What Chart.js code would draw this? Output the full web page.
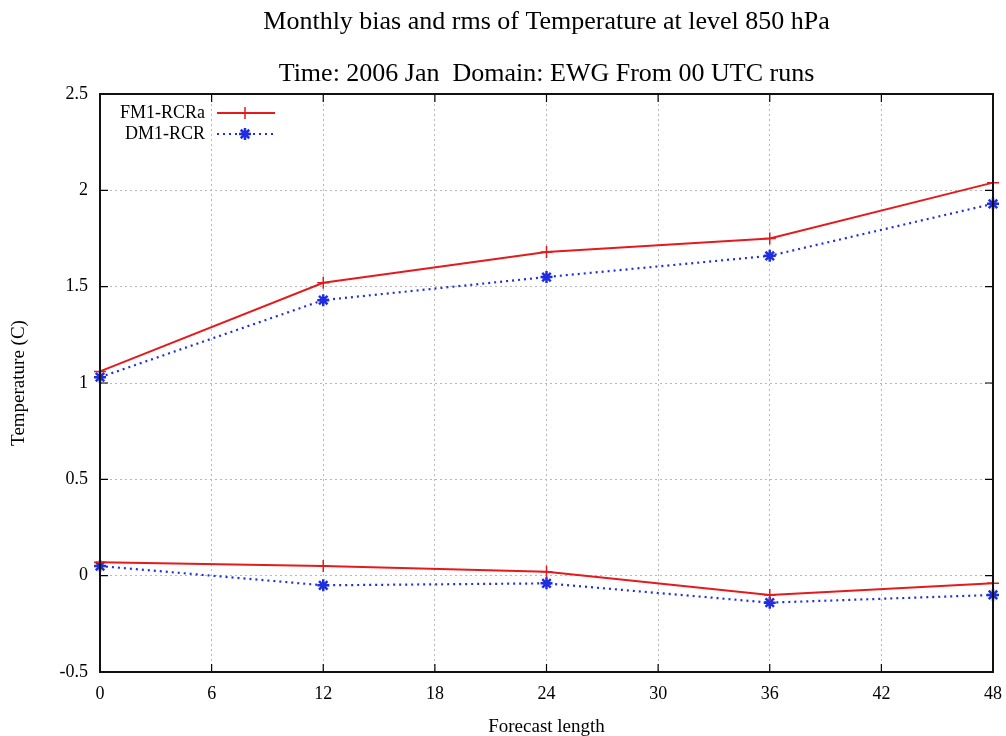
<!DOCTYPE html>
<html>
<head>
<meta charset="utf-8">
<script src="https://cdn.jsdelivr.net/npm/chart.js@4.4.0/dist/chart.umd.min.js"></script>
<style>
html,body{margin:0;padding:0;background:#fff;}
#wrap{width:1006px;height:736px;position:relative;}
</style>
</head>
<body>
<div id="wrap"><canvas id="c" width="1006" height="736"></canvas></div>
<script>
const forecastHours = [0, 12, 24, 36, 48];
const fm1Rms  = [1.06, 1.52, 1.68, 1.75, 2.04];
const dm1Rms  = [1.03, 1.43, 1.55, 1.66, 1.93];
const fm1Bias = [0.07, 0.05, 0.02, -0.10, -0.04];
const dm1Bias = [0.05, -0.05, -0.04, -0.14, -0.10];
const xTickValues = [0, 6, 12, 18, 24, 30, 36, 42, 48];
const yTickValues = [-0.5, 0, 0.5, 1, 1.5, 2, 2.5];
const seriesNames = ['FM1-RCRa', 'DM1-RCR'];
const titleLines = ['Monthly bias and rms of Temperature at level 850 hPa', 'Time: 2006 Jan  Domain: EWG From 00 UTC runs'];
const xTitle = 'Forecast length';
const yTitle = 'Temperature (C)';

const RED = '#e41a1c';
const BLUE = '#1f2fe0';
const FONT = '"Liberation Serif", "DejaVu Serif", serif';

function pts(vals){ return forecastHours.map((h,i)=>({x:h, y:vals[i]})); }

const redStyle = {borderColor: RED, backgroundColor: RED, borderWidth: 2, pointStyle: 'cross', pointRadius: 6, pointBorderWidth: 1.5, pointBorderColor: RED, clip: false, tension: 0};
const blueStyle = {borderColor: BLUE, backgroundColor: BLUE, borderWidth: 2.2, borderDash: [2, 4], pointStyle: 'star', pointRadius: 6, pointBorderWidth: 2.5, pointBorderColor: BLUE, clip: false, tension: 0};

const decor = {
  id: 'decor',
  afterDraw(chart){
    const ctx = chart.ctx, a = chart.chartArea;
    const xs = chart.scales.x, ys = chart.scales.y;
    ctx.save();
    ctx.strokeStyle = '#000'; ctx.lineWidth = 1.2;
    const tl = 8;
    xTickValues.forEach(v=>{
      const px = xs.getPixelForValue(v);
      ctx.beginPath(); ctx.moveTo(px, a.bottom); ctx.lineTo(px, a.bottom - tl);
      ctx.moveTo(px, a.top); ctx.lineTo(px, a.top + tl); ctx.stroke();
    });
    yTickValues.forEach(v=>{
      const py = ys.getPixelForValue(v);
      ctx.beginPath(); ctx.moveTo(a.left, py); ctx.lineTo(a.left + tl, py);
      ctx.moveTo(a.right, py); ctx.lineTo(a.right - tl, py); ctx.stroke();
    });
    ctx.lineWidth = 2; ctx.strokeStyle = '#111';
    ctx.strokeRect(a.left, a.top, a.right - a.left, a.bottom - a.top);
    ctx.fillStyle = '#000';
    ctx.textAlign = 'center'; ctx.textBaseline = 'middle';
    ctx.font = '26px ' + FONT;
    const cx = (a.left + a.right) / 2;
    ctx.fillText(titleLines[0], cx, 22);
    ctx.fillText(titleLines[1], cx, 74);
    ctx.font = '19px ' + FONT;
    ctx.fillText(xTitle, cx, 727);
    ctx.save();
    ctx.translate(19, (a.top + a.bottom) / 2);
    ctx.rotate(-Math.PI / 2);
    ctx.fillText(yTitle, 0, 0);
    ctx.restore();
    const rows = [
      {name: seriesNames[0], y: 113, color: RED, dash: [], style: 'cross', lw: 2},
      {name: seriesNames[1], y: 134, color: BLUE, dash: [2, 4], style: 'star', lw: 2.2}
    ];
    ctx.font = '18px ' + FONT;
    rows.forEach(r=>{
      ctx.textAlign = 'right'; ctx.fillStyle = '#000';
      ctx.fillText(r.name, 205, r.y);
      ctx.strokeStyle = r.color; ctx.lineWidth = r.lw; ctx.setLineDash(r.dash);
      ctx.beginPath(); ctx.moveTo(217, r.y); ctx.lineTo(275, r.y); ctx.stroke();
      ctx.setLineDash([]);
      ctx.lineWidth = r.style === 'star' ? 2.5 : 1.5;
      Chart.helpers.drawPoint(ctx, {pointStyle: r.style, radius: 6, borderWidth: ctx.lineWidth}, 245, r.y);
    });
    ctx.restore();
  }
};

new Chart(document.getElementById('c'), {
  type: 'line',
  data: {
    datasets: [
      Object.assign({label: seriesNames[0], data: pts(fm1Rms)}, redStyle),
      Object.assign({label: seriesNames[1], data: pts(dm1Rms)}, blueStyle),
      Object.assign({label: seriesNames[0] + ' bias', data: pts(fm1Bias)}, redStyle),
      Object.assign({label: seriesNames[1] + ' bias', data: pts(dm1Bias)}, blueStyle)
    ]
  },
  options: {
    responsive: false,
    animation: false,
    layout: {padding: {left: 0, right: 13, top: 94, bottom: 0}},
    plugins: {legend: {display: false}, title: {display: false}, tooltip: {enabled: false}},
    scales: {
      x: {
        type: 'linear', min: 0, max: 48,
        afterBuildTicks(s){ s.ticks = xTickValues.map(v=>({value: v})); },
        afterFit(s){ s.height = 64; s.paddingRight = 0; s.paddingLeft = 0; },
        grid: {color: '#b8b8b8', lineWidth: 1, drawTicks: false},
        border: {display: false, dash: [2, 3]},
        ticks: {color: '#000', font: {family: FONT, size: 18}, padding: 11, maxRotation: 0, callback: v => String(v)}
      },
      y: {
        min: -0.5, max: 2.5,
        afterBuildTicks(s){ s.ticks = yTickValues.map(v=>({value: v})); },
        afterFit(s){ s.width = 100; s.paddingTop = 0; s.paddingBottom = 0; },
        grid: {color: '#b8b8b8', lineWidth: 1, drawTicks: false},
        border: {display: false, dash: [2, 3]},
        ticks: {color: '#000', font: {family: FONT, size: 18}, padding: 12, callback: v => String(v)}
      }
    }
  },
  plugins: [decor]
});
</script>
</body>
</html>
